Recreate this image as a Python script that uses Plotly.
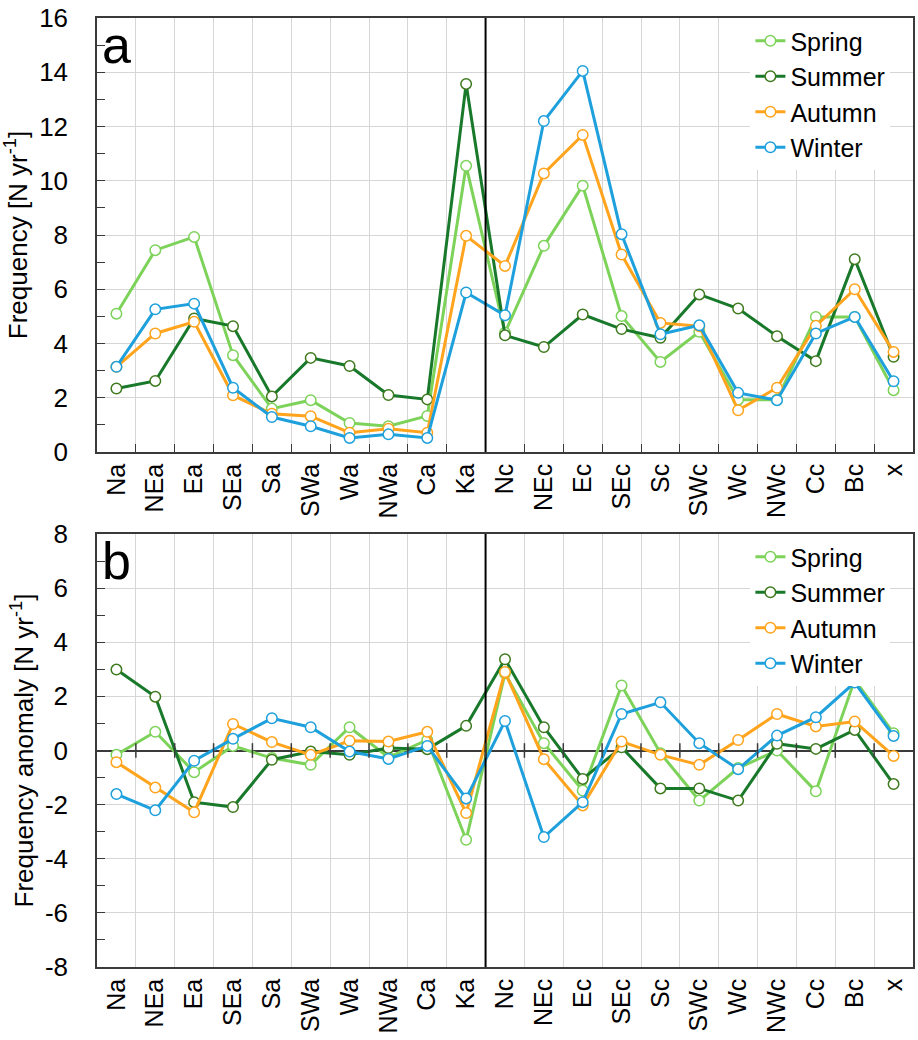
import plotly.graph_objects as go

# Circulation types (anticyclonic, cyclonic, unclassified)
categories = ["Na", "NEa", "Ea", "SEa", "Sa", "SWa", "Wa", "NWa", "Ca", "Ka",
              "Nc", "NEc", "Ec", "SEc", "Sc", "SWc", "Wc", "NWc", "Cc", "Bc", "x"]

seasons = ["Spring", "Summer", "Autumn", "Winter"]
colors = {"Spring": "#7dd35a", "Summer": "#18792b", "Autumn": "#ffa41c", "Winter": "#1ea0dc"}
edge_colors = {"Spring": "#7dd35a", "Summer": "#3e7a1e", "Autumn": "#ffa41c", "Winter": "#1ea0dc"}

# Panel a: seasonal frequency [N yr-1]
freq_spring = [5.10, 7.44, 7.93, 3.57, 1.60, 1.91, 1.07, 0.95, 1.33, 10.55,
               4.40, 7.60, 9.82, 5.01, 3.32, 4.43, 1.93, 1.93, 4.98, 4.98, 2.28]
freq_summer = [2.34, 2.62, 4.92, 4.64, 2.05, 3.47, 3.17, 2.10, 1.94, 13.57,
               4.30, 3.87, 5.07, 4.53, 4.21, 5.81, 5.29, 4.27, 3.35, 7.11, 3.51]
freq_autumn = [3.14, 4.37, 4.80, 2.09, 1.41, 1.32, 0.71, 0.86, 0.71, 7.97,
               6.86, 10.27, 11.69, 7.28, 4.76, 4.64, 1.54, 2.37, 4.65, 6.00, 3.69]
freq_winter = [3.14, 5.26, 5.47, 2.37, 1.29, 0.95, 0.52, 0.65, 0.52, 5.88,
               5.04, 12.20, 14.05, 8.03, 4.34, 4.67, 2.18, 1.91, 4.37, 4.98, 2.61]

# Panel b: frequency anomaly [N yr-1]
anom_spring = [-0.16, 0.69, -0.80, 0.17, -0.28, -0.53, 0.86, -0.25, 0.39, -3.30,
               2.85, 0.27, -1.48, 2.40, -0.10, -1.85, -0.65, 0.00, -1.51, 2.61, 0.64]
anom_summer = [2.99, 1.99, -1.91, -2.09, -0.34, -0.04, -0.16, 0.09, 0.05, 0.91,
               3.37, 0.86, -1.05, 0.12, -1.40, -1.40, -1.85, 0.25, 0.06, 0.76, -1.24]
anom_autumn = [-0.43, -1.37, -2.28, 0.98, 0.31, -0.16, 0.36, 0.33, 0.69, -2.31,
               2.90, -0.32, -2.03, 0.33, -0.16, -0.53, 0.39, 1.35, 0.89, 1.07, -0.20]
anom_winter = [-1.61, -2.21, -0.38, 0.43, 1.19, 0.86, -0.04, -0.31, 0.17, -1.77,
               1.09, -3.20, -1.91, 1.35, 1.78, 0.27, -0.69, 0.55, 1.23, 2.51, 0.54]

# Y tick labels
freq_ticks = [0, 2, 4, 6, 8, 10, 12, 14, 16]
anom_ticks = [-8, -6, -4, -2, 0, 2, 4, 6, 8]

freq = {"Spring": freq_spring, "Summer": freq_summer, "Autumn": freq_autumn, "Winter": freq_winter}
anom = {"Spring": anom_spring, "Summer": anom_summer, "Autumn": anom_autumn, "Winter": anom_winter}

FONT = "Liberation Sans, Arial, sans-serif"
W, H = 918, 1040
ML, MR, MT, MB = 97, 3, 18, 73
PW = W - ML - MR
plot_h = H - MT - MB
dom_a = [(H - MB - 452) / plot_h, 1.0]
dom_b = [0.0, (H - MB - 534) / plot_h]

fig = go.Figure()

for s in seasons:
    for data, xa, ya, lg in ((freq, "x", "y", "legend"), (anom, "x2", "y2", "legend2")):
        fig.add_trace(go.Scatter(
            x=categories, y=data[s], name=s, mode="lines+markers",
            xaxis=xa, yaxis=ya, legend=lg,
            line=dict(color=colors[s], width=3),
            marker=dict(symbol="circle", size=10.5, color="white",
                        line=dict(color=edge_colors[s], width=1.5)),
        ))

grid = "#d6d6d6"
frame = "#3a3a3a"
tick_font = dict(family=FONT, size=26, color="black")
cat_font = dict(family=FONT, size=25, color="black")
title_font = dict(family=FONT, size=26, color="black")
legend_font = dict(family=FONT, size=25, color="black")

xcommon = dict(type="category", categoryorder="array", categoryarray=categories,
               tickson="boundaries",
               showgrid=True, gridcolor=grid, gridwidth=1.2,
               showline=True, linecolor=frame, linewidth=1.5, mirror=True,
               tickangle=-90, tickfont=cat_font, range=[-0.5, 20.5])
ycommon = dict(showgrid=True, gridcolor=grid, gridwidth=1.2,
               showline=True, linecolor=frame, linewidth=1.5, mirror=True,
               ticks="inside", ticklen=8, tickcolor=frame, tickwidth=1.2,
               minor=dict(dtick=1, ticks="inside", ticklen=8, tickcolor=frame, showgrid=False),
               tickfont=tick_font, ticklabelstandoff=22)

# Legend box: left edge placed so the entries start near the right of the panel
leg_x = (752 - ML) / PW

fig.update_layout(
    width=W, height=H, paper_bgcolor="white", plot_bgcolor="white",
    margin=dict(l=ML, r=MR, t=MT, b=MB),
    font=dict(family=FONT, color="black"),
    xaxis=dict(**xcommon, anchor="y", ticks="inside", ticklen=8, tickcolor=frame,
               tickwidth=1.2),
    xaxis2=dict(**xcommon, anchor="y2", ticks=""),
    yaxis=dict(**ycommon, domain=dom_a, anchor="x", range=[0, 16],
               tickmode="array", tickvals=freq_ticks,
               ticktext=[str(v) for v in freq_ticks],
               title=dict(text="Frequency [N yr<sup>-1</sup>]",
                          font=title_font, standoff=4)),
    yaxis2=dict(**ycommon, domain=dom_b, anchor="x2", range=[-8, 8],
                tickmode="array", tickvals=anom_ticks,
                ticktext=[str(v) for v in anom_ticks],
                zeroline=True, zerolinecolor=frame, zerolinewidth=1.5,
                title=dict(text="Frequency anomaly [N yr<sup>-1</sup>]",
                           font=title_font, standoff=4)),
    legend=dict(x=leg_x, y=1.0, xanchor="left", yanchor="top",
                bgcolor="white", font=legend_font, tracegroupgap=0,
                itemwidth=30, borderwidth=0),
    legend2=dict(x=leg_x, y=dom_b[1], xanchor="left", yanchor="top",
                 bgcolor="white", font=legend_font, tracegroupgap=0,
                 itemwidth=30, borderwidth=0),
    showlegend=True,
)

# Divider between anticyclonic and cyclonic types
for xr, yr in (("x", "y domain"), ("x2", "y2 domain")):
    fig.add_shape(type="line", xref=xr, yref=yr, x0=9.5, x1=9.5, y0=0, y1=1,
                  line=dict(color="black", width=2), layer="above")

# Tick marks on the zero line of the anomaly panel
for k in range(1, len(categories)):
    fig.add_shape(type="line", xref="x2", yref="y2", x0=k - 0.5, x1=k - 0.5,
                  y0=-0.27, y1=0.27, line=dict(color=frame, width=1.5), layer="above")

# Panel letters
fig.add_annotation(text="a", xref="x domain", yref="y domain", x=0.004, y=1.01,
                   xanchor="left", yanchor="top", showarrow=False,
                   font=dict(family=FONT, size=52, color="black"))
fig.add_annotation(text="b", xref="x2 domain", yref="y2 domain", x=0.004, y=1.01,
                   xanchor="left", yanchor="top", showarrow=False,
                   font=dict(family=FONT, size=52, color="black"))

fig.write_html("out.html")
